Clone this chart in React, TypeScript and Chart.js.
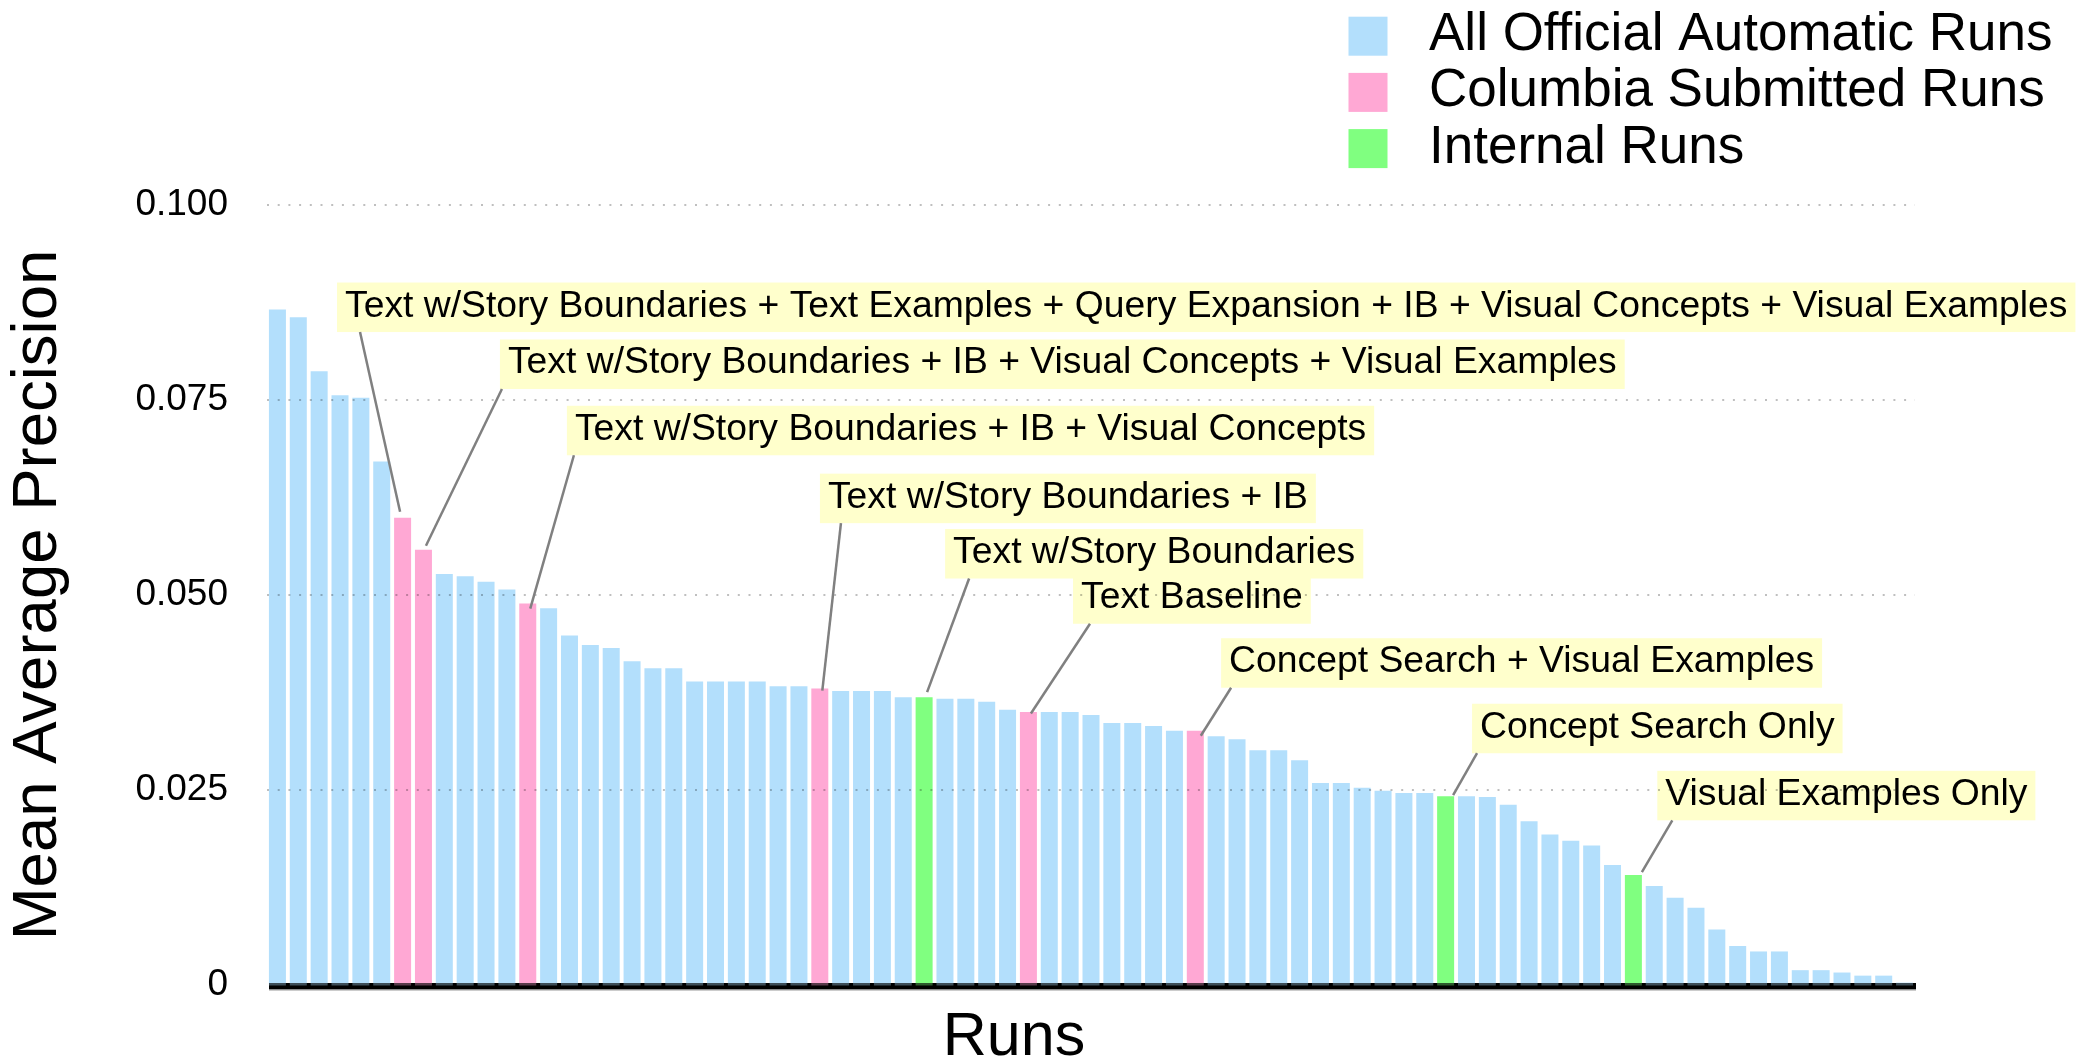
import React, { useEffect, useRef } from 'react';
import { Chart, registerables } from 'chart.js';

Chart.register(...registerables);

const FONT = '"Liberation Sans", Arial, Helvetica, sans-serif';

// ---------------- DATA ----------------
const runLabels: string[] = Array.from({ length: 79 }, (_, i) => `Run ${i + 1}`);

const mapValues: number[] = [
  0.0866, 0.0856, 0.0787, 0.0756, 0.0753, 0.0671, 0.0599, 0.0558, 0.0527, 0.0524,
  0.0517, 0.0507, 0.0489, 0.0483, 0.0448, 0.0436, 0.0432, 0.0415, 0.0406, 0.0406,
  0.0389, 0.0389, 0.0389, 0.0389, 0.0383, 0.0383, 0.0380, 0.0377, 0.0377, 0.0377,
  0.0369, 0.0369, 0.0367, 0.0367, 0.0363, 0.0353, 0.0350, 0.0350, 0.0350, 0.0346,
  0.0336, 0.0336, 0.0332, 0.0326, 0.0326, 0.0319, 0.0315, 0.0301, 0.0301, 0.0288,
  0.0259, 0.0259, 0.0253, 0.0249, 0.0246, 0.0246, 0.0242, 0.0242, 0.0241, 0.0231,
  0.0210, 0.0193, 0.0185, 0.0179, 0.0154, 0.0141, 0.0127, 0.0112, 0.0099, 0.0071,
  0.0050, 0.0043, 0.0043, 0.0019, 0.0019, 0.0016, 0.0012, 0.0012, 0.0003,
];

// 1-based run numbers
const columbiaRuns: number[] = [7, 8, 13, 27, 37, 45];
const internalRuns: number[] = [32, 57, 66];

const seriesNames: string[] = ['All Official Automatic Runs', 'Columbia Submitted Runs', 'Internal Runs'];
const seriesColors: string[] = ['#B3DFFC', '#FFA8D4', '#80FF80'];

const yTickLabels: string[] = ['0', '0.025', '0.050', '0.075', '0.100'];

const xTitle = 'Runs';
const yTitle = 'Mean Average Precision';

const annotationTexts: string[] = [
  'Text w/Story Boundaries + Text Examples + Query Expansion + IB + Visual Concepts + Visual Examples',
  'Text w/Story Boundaries + IB + Visual Concepts + Visual Examples',
  'Text w/Story Boundaries + IB + Visual Concepts',
  'Text w/Story Boundaries + IB',
  'Text w/Story Boundaries',
  'Text Baseline',
  'Concept Search + Visual Examples',
  'Concept Search Only',
  'Visual Examples Only',
];
// run each annotation points at (1-based)
const annotationRuns: number[] = [7, 8, 13, 27, 32, 37, 45, 57, 66];
// label anchor in data space: x = category position (0-based), y = MAP value at the text baseline
const annotationAnchorX: number[] = [3.24, 11.05, 14.26, 26.39, 32.39, 38.52, 45.62, 57.65, 66.53];
const annotationAnchorY: number[] = [0.0857, 0.0784, 0.0699, 0.0612, 0.0541, 0.0483, 0.0401, 0.0317, 0.0231];

// ---------------- STYLE / LAYOUT ----------------
const ANNOT_FONT_SIZE = 37.3;
const leaderStartOffset = [23, 2, 7, 21, 24, 17, 10, 5, 15];
const leaderEndDx = [-2.5, 2.5, 2.5, 2.5, 3, 2.5, 5.5, 7.5, 8.5];
const leaderEndDy = [-6, -4, 5, 2, -5, 1.5, 5, -1, -3];

function groupOf(run: number): number {
  if (columbiaRuns.includes(run)) return 1;
  if (internalRuns.includes(run)) return 2;
  return 0;
}

function annotationBoxes(chart: any) {
  const ctx = chart.ctx as CanvasRenderingContext2D;
  const xs = chart.scales.x;
  const ys = chart.scales.y;
  ctx.save();
  ctx.font = `${ANNOT_FONT_SIZE}px ${FONT}`;
  const out = annotationTexts.map((text, i) => {
    const tx = xs.getPixelForValue(annotationAnchorX[i]);
    const by = ys.getPixelForValue(annotationAnchorY[i]);
    const w = ctx.measureText(text).width;
    return { text, tx, by, left: tx - 8, right: tx + w + 8, top: by - 34, bottom: by + 15.5 };
  });
  ctx.restore();
  return out;
}

const customDraw = {
  id: 'customDraw',
  beforeDraw(chart: any) {
    const ctx = chart.ctx as CanvasRenderingContext2D;
    ctx.save();
    ctx.fillStyle = '#FFFFCC';
    for (const b of annotationBoxes(chart)) {
      ctx.fillRect(b.left, b.top, b.right - b.left, b.bottom - b.top);
    }
    ctx.restore();
  },
  afterDraw(chart: any) {
    const ctx = chart.ctx as CanvasRenderingContext2D;
    const xs = chart.scales.x;
    const ys = chart.scales.y;
    const ca = chart.chartArea;
    ctx.save();

    // thick baseline
    ctx.fillStyle = '#000';
    ctx.fillRect(ca.left + 2, ca.bottom - 2, ca.right - ca.left - 1, 6.5);
    ctx.fillStyle = '#9a9a9a';
    ctx.fillRect(ca.left + 2, ca.bottom + 4.5, ca.right - ca.left - 1, 1);
    // tinted bar feet over baseline
    const slot = (ca.right - ca.left) / runLabels.length;
    const bw = slot * 0.815;
    ctx.globalAlpha = 0.35;
    mapValues.forEach((v, i) => {
      ctx.fillStyle = seriesColors[groupOf(i + 1)];
      ctx.fillRect(xs.getPixelForValue(i) - bw / 2, ca.bottom - 2, bw, 2.5);
    });
    ctx.globalAlpha = 1;

    // leader lines
    const boxes = annotationBoxes(chart);
    ctx.strokeStyle = '#808080';
    ctx.lineWidth = 2.5;
    boxes.forEach((b, i) => {
      const idx = annotationRuns[i] - 1;
      const ex = xs.getPixelForValue(idx) + leaderEndDx[i];
      const ey = ys.getPixelForValue(mapValues[idx]) + leaderEndDy[i];
      ctx.beginPath();
      ctx.moveTo(b.left + leaderStartOffset[i], b.bottom);
      ctx.lineTo(ex, ey);
      ctx.stroke();
    });

    // annotation texts
    ctx.fillStyle = '#000';
    ctx.font = `${ANNOT_FONT_SIZE}px ${FONT}`;
    ctx.textAlign = 'left';
    ctx.textBaseline = 'alphabetic';
    boxes.forEach((b) => ctx.fillText(b.text, b.tx, b.by));

    // legend
    ctx.font = `53px ${FONT}`;
    seriesNames.forEach((name, i) => {
      ctx.fillStyle = seriesColors[i];
      ctx.fillRect(1348.5, 16.7 + i * 56.2, 39, 39);
      ctx.fillStyle = '#000';
      ctx.fillText(name, 1429, 50 + i * 56.3);
    });

    // x axis title
    ctx.font = `61px ${FONT}`;
    ctx.textAlign = 'center';
    ctx.fillText(xTitle, 1014, 1055);

    ctx.restore();
  },
};

export default function App() {
  const ref = useRef<HTMLCanvasElement>(null);

  useEffect(() => {
    const canvas = ref.current;
    if (!canvas) return;

    const datasets = seriesNames.map((name, g) => ({
      label: name,
      data: mapValues.map((v, i) => (groupOf(i + 1) === g ? v : null)),
      backgroundColor: seriesColors[g],
      borderWidth: 0,
      grouped: false,
      barPercentage: 0.815,
      categoryPercentage: 1,
    }));

    const chart = new Chart(canvas, {
      type: 'bar',
      data: { labels: runLabels, datasets: datasets as any },
      options: {
        responsive: false,
        animation: false,
        devicePixelRatio: 1,
        layout: { padding: { left: 0, top: 205, right: 161, bottom: 0 } },
        font: { family: FONT },
        plugins: {
          legend: { display: false },
          tooltip: { enabled: false },
        },
        scales: {
          x: {
            type: 'category',
            offset: true,
            grid: { display: false },
            border: { display: false },
            ticks: { display: false },
            afterFit: (scale: any) => {
              scale.height = 77;
            },
          },
          y: {
            min: 0,
            max: 0.1,
            ticks: {
              stepSize: 0.025,
              padding: 39,
              color: '#000',
              font: { family: FONT, size: 37 },
              callback: (_v: any, i: number) => yTickLabels[i],
            },
            grid: {
              z: 1,
              drawTicks: false,
              lineWidth: 2,
              color: (c: any) => (c.tick && c.tick.value === 0 ? 'rgba(0,0,0,0)' : 'rgba(0,0,0,0.25)'),
            },
            border: { display: false, dash: [2, 8.7] },
            title: {
              display: true,
              text: yTitle,
              color: '#000',
              font: { family: FONT, size: 63.5, lineHeight: 1 },
              padding: { top: 7, bottom: 0 },
            },
            afterFit: (scale: any) => {
              scale.width = 267;
            },
          },
        },
      },
      plugins: [customDraw],
    });

    return () => chart.destroy();
  }, []);

  return (
    <div style={{ position: 'fixed', left: 0, top: 0, width: 2076, height: 1062, background: '#fff' }}>
      <canvas ref={ref} width={2076} height={1062} style={{ display: 'block', width: 2076, height: 1062 }} />
    </div>
  );
}
